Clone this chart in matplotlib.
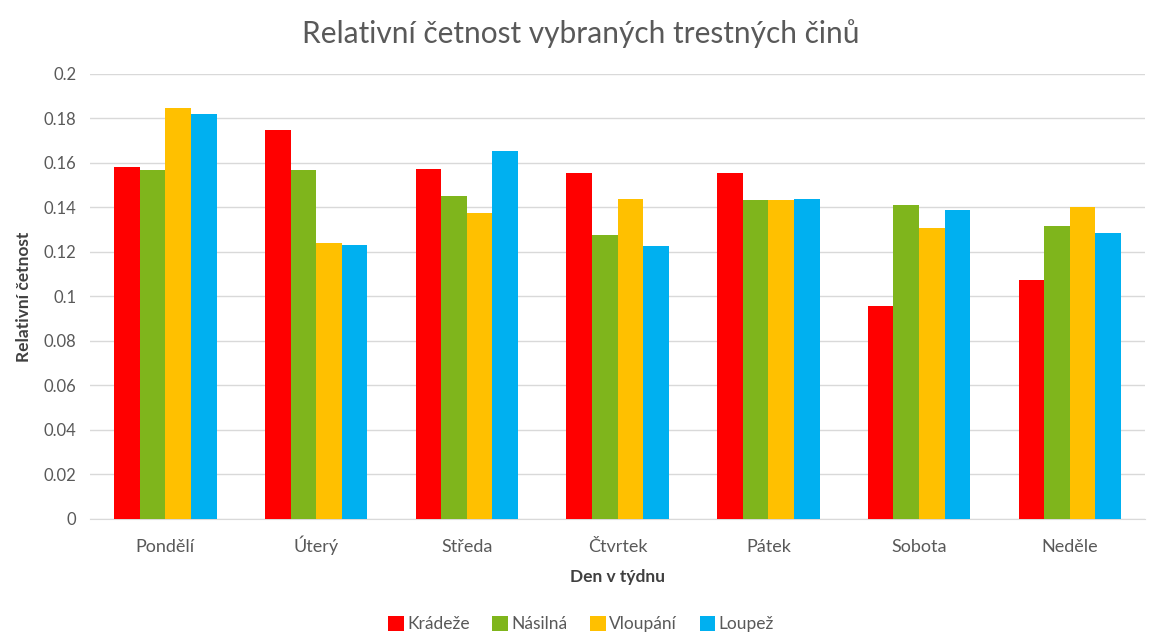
import matplotlib
matplotlib.use("Agg")
import matplotlib.pyplot as plt
import numpy as np
from matplotlib.patches import Patch

plt.rcParams['font.family'] = ['Lato', 'DejaVu Sans']

days = ["Pondělí", "Úterý", "Středa", "Čtvrtek", "Pátek", "Sobota", "Neděle"]
series_names = ["Krádeže", "Násilná", "Vloupání", "Loupež"]
kradeze = [0.158, 0.1746, 0.1575, 0.1557, 0.1557, 0.0956, 0.1072]
nasilna = [0.157, 0.157, 0.1451, 0.1277, 0.1432, 0.141, 0.1317]
vloupani = [0.1848, 0.124, 0.1373, 0.144, 0.1432, 0.1307, 0.140]
loupez = [0.1821, 0.123, 0.1654, 0.1228, 0.144, 0.1388, 0.1284]
colors = ["#FF0000", "#7FB51C", "#FFC000", "#00B0F0"]
yticks = [0, 0.02, 0.04, 0.06, 0.08, 0.1, 0.12, 0.14, 0.16, 0.18, 0.2]
ytick_labels = ["0", "0.02", "0.04", "0.06", "0.08", "0.1", "0.12", "0.14", "0.16", "0.18", "0.2"]

fig = plt.figure(figsize=(11.62, 6.35), dpi=100)
ax = fig.add_axes([0.0775, 0.1827, 0.908, 0.7008])

x = np.arange(len(days))
bw = 0.17
data = [kradeze, nasilna, vloupani, loupez]
for i, (vals, c, n) in enumerate(zip(data, colors, series_names)):
    ax.bar(x + (i - 1.5) * bw, vals, width=bw, color=c, label=n, zorder=3)

ax.set_xlim(-0.5, len(days) - 0.5)
ax.set_ylim(0, 0.2)
ax.set_yticks(yticks)
ax.set_yticklabels(ytick_labels, fontsize=12)
ax.set_xticks(x)
ax.set_xticklabels(days, fontsize=13)
for lbl in ax.get_xticklabels():
    lbl.set_verticalalignment('baseline')
ax.grid(axis='y', color='#D9D9D9', linewidth=1, zorder=0)
for s in ['top', 'right', 'left']:
    ax.spines[s].set_visible(False)
ax.spines['bottom'].set_color('#D9D9D9')
ax.tick_params(axis='both', length=0, colors='#595959')
ax.tick_params(axis='x', pad=23.5)
ax.tick_params(axis='y', pad=10)

ax.set_xlabel("Den v týdnu", fontsize=12.5, fontweight='bold', color='#404040', labelpad=0)
ax.xaxis.set_label_coords(0.5, -0.113)
ax.set_ylabel("Relativní četnost", fontsize=12.5, fontweight='bold', color='#404040', labelpad=8)
fig.text(0.5, 0.948, "Relativní četnost vybraných trestných činů", ha='center', va='center',
         fontsize=21.5, color='#595959')

handles = [Patch(facecolor=c, label=n) for c, n in zip(colors, series_names)]
fig.legend(handles=handles, loc='center', bbox_to_anchor=(0.5, 0.017), ncol=4, frameon=False,
           fontsize=12.5, handlelength=0.9, handleheight=0.9, handletextpad=0.2, columnspacing=1.3,
           labelcolor='#595959')

fig.savefig("out.png", dpi=100)
